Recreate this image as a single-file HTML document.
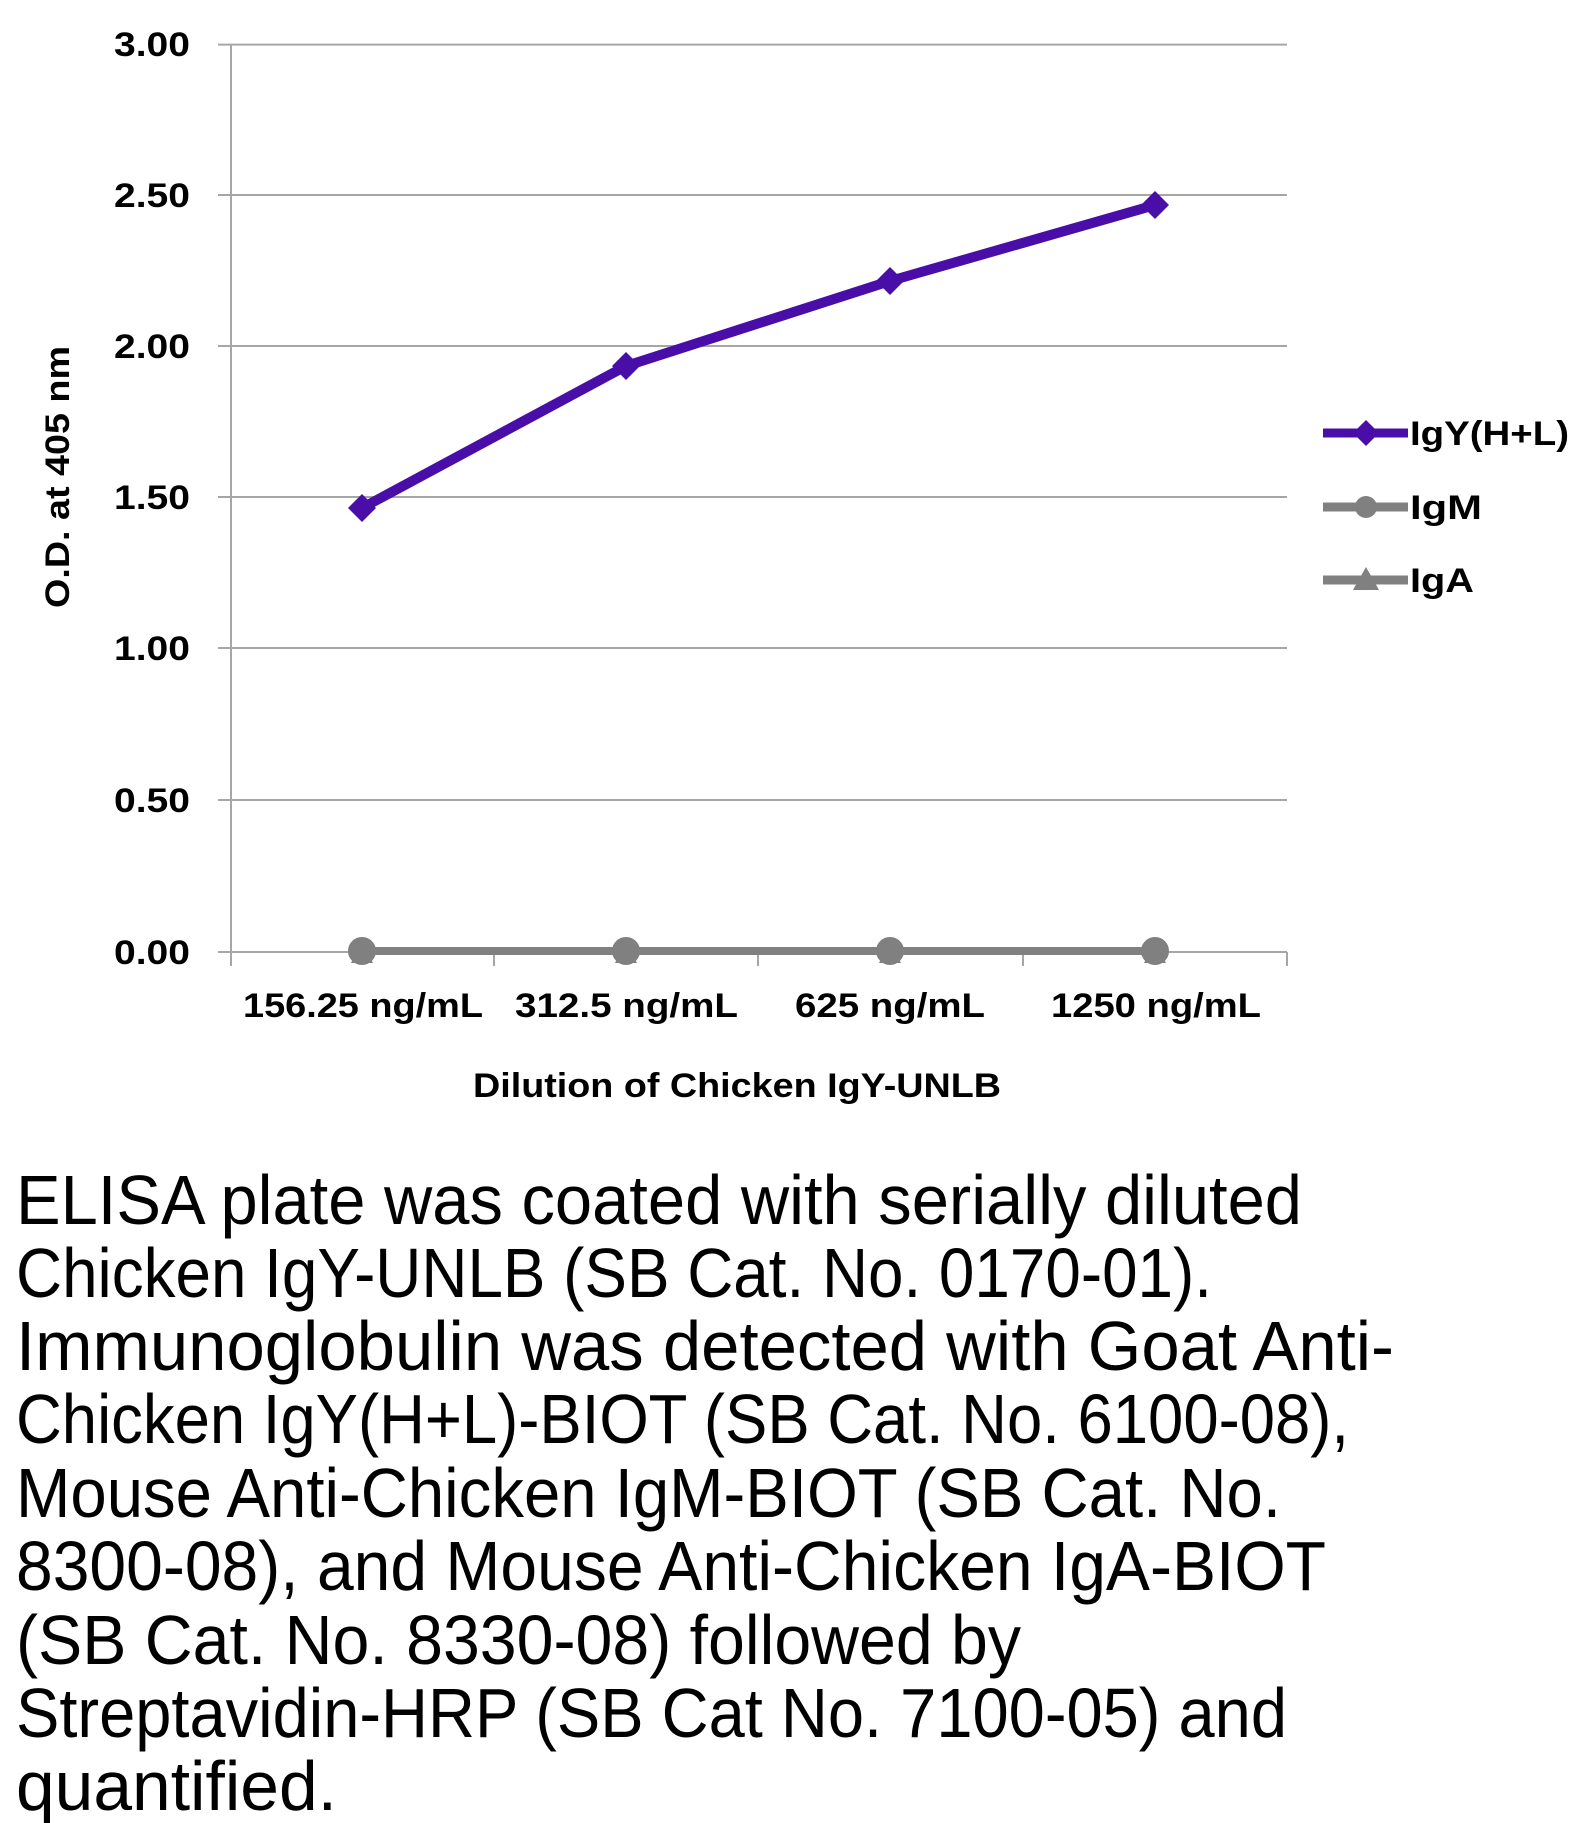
<!DOCTYPE html>
<html><head><meta charset="utf-8"><style>html,body{margin:0;padding:0;background:#fff}svg{display:block}</style></head>
<body>
<svg width="1584" height="1823" viewBox="0 0 1584 1823" xmlns="http://www.w3.org/2000/svg" font-family="'Liberation Sans Narrow','Liberation Sans',sans-serif">
<g stroke="#a6a6a6" stroke-width="2">
<line x1="218" y1="44.6" x2="1287" y2="44.6"/>
<line x1="218" y1="195" x2="1287" y2="195"/>
<line x1="218" y1="346" x2="1287" y2="346"/>
<line x1="218" y1="497" x2="1287" y2="497"/>
<line x1="218" y1="648" x2="1287" y2="648"/>
<line x1="218" y1="800" x2="1287" y2="800"/>
<line x1="218" y1="952" x2="1287" y2="952"/>
<line x1="231" y1="44.6" x2="231" y2="966"/>
<line x1="494" y1="952" x2="494" y2="966"/>
<line x1="758" y1="952" x2="758" y2="966"/>
<line x1="1023" y1="952" x2="1023" y2="966"/>
<line x1="1287" y1="952" x2="1287" y2="966"/>
</g>
<g font-weight="bold" font-size="34" fill="#000" text-anchor="end">
<text x="190" y="56" textLength="76" lengthAdjust="spacingAndGlyphs">3.00</text>
<text x="190" y="207" textLength="76" lengthAdjust="spacingAndGlyphs">2.50</text>
<text x="190" y="358" textLength="76" lengthAdjust="spacingAndGlyphs">2.00</text>
<text x="190" y="509" textLength="76" lengthAdjust="spacingAndGlyphs">1.50</text>
<text x="190" y="660" textLength="76" lengthAdjust="spacingAndGlyphs">1.00</text>
<text x="190" y="812" textLength="76" lengthAdjust="spacingAndGlyphs">0.50</text>
<text x="190" y="964" textLength="76" lengthAdjust="spacingAndGlyphs">0.00</text>
</g>
<g font-weight="bold" font-size="34" fill="#000">
<text x="243" y="1017" textLength="240" lengthAdjust="spacingAndGlyphs">156.25 ng/mL</text>
<text x="515" y="1017" textLength="223" lengthAdjust="spacingAndGlyphs">312.5 ng/mL</text>
<text x="795" y="1017" textLength="190" lengthAdjust="spacingAndGlyphs">625 ng/mL</text>
<text x="1051" y="1017" textLength="210" lengthAdjust="spacingAndGlyphs">1250 ng/mL</text>
<text x="473" y="1097" textLength="528" lengthAdjust="spacingAndGlyphs">Dilution of Chicken IgY-UNLB</text>
<text transform="translate(69,608) rotate(-90)" x="0" y="0" textLength="262" lengthAdjust="spacingAndGlyphs">O.D. at 405 nm</text>
</g>
<g stroke="#808080" stroke-width="8" fill="#808080">
<line x1="362" y1="951" x2="1155" y2="951"/>
<circle cx="362" cy="951" r="10"/><circle cx="626" cy="951" r="10"/><circle cx="890" cy="951" r="10"/><circle cx="1155" cy="951" r="10"/>
</g>
<g fill="#808080">
<polygon points="362,943 373,963 351,963"/><polygon points="626,943 637,963 615,963"/><polygon points="890,943 901,963 879,963"/><polygon points="1155,943 1166,963 1144,963"/>
</g>
<polyline points="362,508 626,366 890,281 1155,205" fill="none" stroke="#4a0ea8" stroke-width="10" stroke-linejoin="round"/>
<g fill="#4a0ea8">
<polygon points="362,494 376,508 362,522 348,508"/>
<polygon points="626,352 640,366 626,380 612,366"/>
<polygon points="890,267 904,281 890,295 876,281"/>
<polygon points="1155,191 1169,205 1155,219 1141,205"/>
</g>
<line x1="1323" y1="433" x2="1408" y2="433" stroke="#4a0ea8" stroke-width="9"/>
<polygon points="1366,420 1379,433 1366,446 1353,433" fill="#4a0ea8"/>
<line x1="1323" y1="507" x2="1408" y2="507" stroke="#808080" stroke-width="9"/>
<circle cx="1366" cy="507" r="11" fill="#808080"/>
<line x1="1323" y1="580" x2="1408" y2="580" stroke="#808080" stroke-width="9"/>
<polygon points="1366,567 1379,590 1353,590" fill="#808080"/>
<g font-weight="bold" font-size="34" fill="#000">
<text x="1410" y="445" textLength="159" lengthAdjust="spacingAndGlyphs">IgY(H+L)</text>
<text x="1410" y="519" textLength="72" lengthAdjust="spacingAndGlyphs">IgM</text>
<text x="1410" y="592" textLength="64" lengthAdjust="spacingAndGlyphs">IgA</text>
</g>
<g font-size="70" fill="#000">
<text x="16" y="1224" textLength="1286" lengthAdjust="spacingAndGlyphs">ELISA plate was coated with serially diluted</text>
<text x="16" y="1297" textLength="1196" lengthAdjust="spacingAndGlyphs">Chicken IgY-UNLB (SB Cat. No. 0170-01).</text>
<text x="16" y="1370" textLength="1378" lengthAdjust="spacingAndGlyphs">Immunoglobulin was detected with Goat Anti-</text>
<text x="16" y="1443" textLength="1333" lengthAdjust="spacingAndGlyphs">Chicken IgY(H+L)-BIOT (SB Cat. No. 6100-08),</text>
<text x="16" y="1517" textLength="1265" lengthAdjust="spacingAndGlyphs">Mouse Anti-Chicken IgM-BIOT (SB Cat. No.</text>
<text x="16" y="1590" textLength="1310" lengthAdjust="spacingAndGlyphs">8300-08), and Mouse Anti-Chicken IgA-BIOT</text>
<text x="16" y="1664" textLength="1005" lengthAdjust="spacingAndGlyphs">(SB Cat. No. 8330-08) followed by</text>
<text x="16" y="1737" textLength="1271" lengthAdjust="spacingAndGlyphs">Streptavidin-HRP (SB Cat No. 7100-05) and</text>
<text x="16" y="1810" textLength="321" lengthAdjust="spacingAndGlyphs">quantified.</text>
</g>
</svg>
</body></html>
